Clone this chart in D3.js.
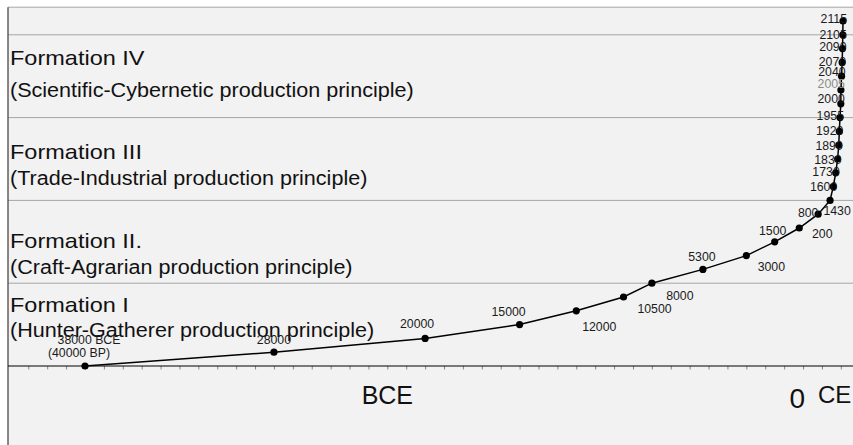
<!DOCTYPE html>
<html><head><meta charset="utf-8">
<script src="https://cdn.jsdelivr.net/npm/d3@7"></script>
<style>
body{margin:0;background:#fff}
svg{display:block}
text{font-family:"Liberation Sans",Arial,Helvetica,sans-serif}
</style>
</head><body><svg id="c" width="853" height="445"></svg>
<script>
// ---- data ----
const years = [-38000, -28000, -20000, -15000, -12000, -9500, -8000, -5300, -3000, -1500, -200,
  800, 1430, 1600, 1730, 1830, 1890, 1920, 1955, 2000, 2005, 2040, 2070, 2090, 2105, 2115];
const labels = ["38000 BCE", "28000", "20000", "15000", "12000", "10500", "8000", "5300", "3000", "1500", "200",
  "800", "1430", "1600", "1730", "1830", "1890", "1920", "1955", "2000", "2005", "2040", "2070", "2090", "2105", "2115"];
const subLabel0 = "(40000 BP)";
const grayLabels = ["2005"];
const formationTitles = ["Formation I", "Formation II.", "Formation III", "Formation IV"];
const formationSubtitles = ["(Hunter-Gatherer production principle)", "(Craft-Agrarian production principle)",
  "(Trade-Industrial production principle)", "(Scientific-Cybernetic production principle)"];
const formationStart = [0, 6, 12, 18, 24];   // stage index where each formation band begins/ends
const stageMax = 26;
const tickYears = d3.range(-41000, 2001, 1000);
const eraLabels = ["BCE", "0", "CE"];

// ---- layout ----
const W = 853, H = 445, L = 8, T = 7.2, axisY = 366;
const svg = d3.select("#c");
const x = d3.scaleLinear().domain([-38000, 2115]).range([85, 843]);
const y = d3.scaleLinear().domain([0, stageMax]).range([axisY, T]);

svg.append("rect").attr("x", L).attr("y", T).attr("width", W - L).attr("height", H - T).attr("fill", "#f2f2f2");

// band lines
svg.selectAll("line.band").data(formationStart.slice(1).concat([stageMax])).enter().append("line")
  .attr("x1", L).attr("x2", W).attr("y1", d => y(d)).attr("y2", d => y(d))
  .attr("stroke", "#a6a6a6").attr("stroke-width", 1);

// left border
svg.append("line").attr("x1", L).attr("x2", L).attr("y1", T).attr("y2", H).attr("stroke", "#3a3a3a").attr("stroke-width", 1.2);

// formation texts
const titleBase = [312, 248, 159, 65];
const subBase = [337, 274, 185, 97];
formationTitles.forEach((t, i) => {
  svg.append("text").attr("transform", `translate(10,${titleBase[i]}) scale(1.12,1)`)
    .attr("font-size", 21).attr("fill", "#111").text(t);
  svg.append("text").attr("transform", `translate(10,${subBase[i]}) scale(1.1,1)`)
    .attr("font-size", 19.6).attr("fill", "#111").text(formationSubtitles[i]);
});

// axis ticks
const ax = svg.append("g").attr("transform", `translate(0,${axisY})`)
  .call(d3.axisBottom(x).tickValues(tickYears).tickSize(3.5).tickFormat(""));
ax.select(".domain").remove();
ax.selectAll(".tick line").attr("stroke", "#888");
svg.append("line").attr("x1", L).attr("x2", W).attr("y1", axisY).attr("y2", axisY).attr("stroke", "#000").attr("stroke-width", 1.2);

// era labels
svg.append("text").attr("x", x(-22000)).attr("y", 404).attr("text-anchor", "middle").attr("font-size", 25).attr("fill", "#111").text(eraLabels[0]);
svg.append("text").attr("x", x(0) + 2).attr("y", 408).attr("text-anchor", "end").attr("font-size", 28).attr("fill", "#111").text(eraLabels[1]);
svg.append("text").attr("x", x(0) + 15).attr("y", 403).attr("text-anchor", "start").attr("font-size", 24).attr("fill", "#111").text(eraLabels[2]);

// curve
const pts = years.map((yr, i) => [x(yr), y(i)]);
svg.append("path").attr("d", d3.line()(pts)).attr("fill", "none").attr("stroke", "#000").attr("stroke-width", 1.5);
svg.selectAll("circle.pt").data(pts).enter().append("circle")
  .attr("cx", d => d[0]).attr("cy", d => d[1]).attr("r", 3.6).attr("fill", "#000");

// point label offsets (text centre relative to point); top cluster right-aligned
const off = {
  0: [4, -26], 1: [0, -13], 2: [-8, -15], 3: [-11, -13], 4: [23, 16], 5: [31, 12], 6: [28, 12],
  7: [-1, -13], 8: [25, 11], 9: [-2, -11], 10: [23, 6], 11: [-10, -2], 12: [7, 10]
};
const endDy = {13: 0, 14: -1, 15: 1, 16: 0, 17: -1, 18: -2, 19: -5, 20: -6, 21: -5, 22: -1, 23: -2, 24: 0, 25: -2};
labels.forEach((lab, i) => {
  const [px, py] = pts[i];
  const t = svg.append("text").attr("font-size", 12.3)
    .attr("fill", grayLabels.includes(lab) ? "#8a8a8a" : "#1a1a1a").text(lab);
  if (off[i]) {
    t.attr("x", px + off[i][0]).attr("y", py + off[i][1] + 4.4).attr("text-anchor", "middle");
  } else {
    t.attr("x", px + 4).attr("y", py + endDy[i] + 4.4).attr("text-anchor", "end");
  }
});
svg.append("text").attr("font-size", 12.3).attr("fill", "#1a1a1a").attr("text-anchor", "middle")
  .attr("x", pts[0][0] - 6).attr("y", pts[0][1] - 13 + 4.4).text(subLabel0);
</script>
</body></html>
